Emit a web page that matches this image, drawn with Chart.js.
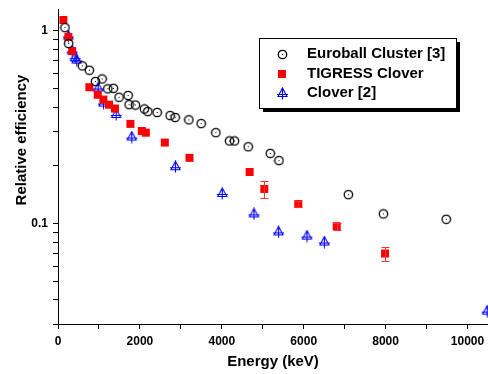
<!DOCTYPE html>
<html>
<head>
<meta charset="utf-8">
<script src="https://cdn.jsdelivr.net/npm/chart.js@4"></script>
<style>
  body { margin: 0; background: #fff; }
  canvas { display: block; }
</style>
</head>
<body>
<canvas id="myChart" width="488" height="374"></canvas>
<script>
// Euroball Cluster [3]
const euroEnergy = [170, 260, 595, 766, 913, 1076, 1215, 1353, 1491, 1711, 1736, 1890, 2110, 2193, 2421, 2738, 2861, 3195, 3496, 3855, 4188, 4310, 4645, 5183, 5395, 7090, 7946, 9480];
const euroEff = [1.04, 0.86, 0.658, 0.625, 0.546, 0.563, 0.50, 0.503, 0.452, 0.462, 0.414, 0.412, 0.393, 0.381, 0.377, 0.363, 0.355, 0.345, 0.330, 0.296, 0.268, 0.268, 0.250, 0.231, 0.212, 0.141, 0.112, 0.105];

// TIGRESS Clover
const tigEnergy = [130, 252, 345, 766, 970, 1107, 1245, 1390, 1768, 2046, 2144, 2608, 3211, 4678, 5037, 5868, 6804, 7985];
const tigEff = [1.14, 0.93, 0.786, 0.51, 0.466, 0.44, 0.414, 0.395, 0.329, 0.302, 0.296, 0.263, 0.219, 0.185, 0.151, 0.126, 0.0967, 0.0697];
const tigErr = [0, 0, 0, 0, 0, 0, 0, 0, 0, 0, 0, 0, 0, 0, 0.015, 0.004, 0.004, 0.006];

// Clover [2]
const cloEnergy = [252, 345, 416, 456, 980, 1110, 1420, 1801, 2868, 4010, 4785, 5387, 6080, 6504, 10480];
const cloEff = [0.94, 0.786, 0.726, 0.706, 0.505, 0.422, 0.368, 0.281, 0.197, 0.143, 0.112, 0.0903, 0.0859, 0.080, 0.035];

const xTicks = [0, 1000, 2000, 3000, 4000, 5000, 6000, 7000, 8000, 9000, 10000];
const yTicks = [0.03, 0.04, 0.05, 0.06, 0.07, 0.08, 0.09, 0.1, 0.2, 0.3, 0.4, 0.5, 0.6, 0.7, 0.8, 0.9, 1];
const yLabels = [0.1, 1];

const FONT = '"Liberation Sans", Arial, sans-serif';

function pairs(xs, ys) {
  return xs.map((x, i) => ({ x: x, y: ys[i] }));
}

// marker shapes
function circleMark() {
  const c = document.createElement('canvas');
  c.width = 11; c.height = 11;
  const g = c.getContext('2d');
  g.strokeStyle = '#000';
  g.lineWidth = 1.3;
  g.beginPath();
  g.arc(5.5, 5.5, 4.2, 0, Math.PI * 2);
  g.stroke();
  g.fillStyle = '#000';
  g.fillRect(5, 5, 1, 1);
  return c;
}

function squareMark() {
  const c = document.createElement('canvas');
  c.width = 10; c.height = 10;
  const g = c.getContext('2d');
  g.fillStyle = '#ff0000';
  g.fillRect(1, 1, 8, 8);
  return c;
}

function triMark() {
  const c = document.createElement('canvas');
  c.width = 13; c.height = 13;
  const g = c.getContext('2d');
  g.strokeStyle = '#0000ff';
  g.lineWidth = 1.1;
  g.beginPath();
  g.moveTo(6.5, 1);
  g.lineTo(2, 9.5);
  g.lineTo(11, 9.5);
  g.closePath();
  g.moveTo(6.5, 1);
  g.lineTo(6.5, 12.5);
  g.moveTo(1, 7.5);
  g.lineTo(12, 7.5);
  g.stroke();
  return c;
}

const marks = [circleMark(), squareMark(), triMark()];

const errorBars = {
  id: 'errorBars',
  afterDatasetsDraw(chart) {
    const g = chart.ctx, xs = chart.scales.x, ys = chart.scales.y;
    g.save();
    g.strokeStyle = '#ff3030';
    g.lineWidth = 1;
    tigErr.forEach((e, i) => {
      if (!e) return;
      const px = Math.round(xs.getPixelForValue(tigEnergy[i])) + 0.5;
      const top = Math.round(ys.getPixelForValue(tigEff[i] + e)) + 0.5;
      const bot = Math.round(ys.getPixelForValue(tigEff[i] - e)) + 0.5;
      g.beginPath();
      g.moveTo(px, top); g.lineTo(px, bot);
      g.moveTo(px - 4, top); g.lineTo(px + 4, top);
      g.moveTo(px - 4, bot); g.lineTo(px + 4, bot);
      g.stroke();
    });
    g.restore();
  }
};

const boxLegend = {
  id: 'boxLegend',
  afterDraw(chart) {
    const g = chart.ctx;
    const bx = 259, by = 38, bw = 197, bh = 70;
    g.save();
    g.fillStyle = '#000';
    g.fillRect(bx + 4, by + 4, bw, bh);
    g.fillStyle = '#fff';
    g.fillRect(bx, by, bw, bh);
    g.strokeStyle = '#000';
    g.lineWidth = 1;
    g.strokeRect(bx + 0.5, by + 0.5, bw, bh);
    g.font = 'bold 15px ' + FONT;
    g.fillStyle = '#000';
    g.textBaseline = 'middle';
    chart.data.datasets.forEach((ds, i) => {
      const y = 54 + i * 19.5;
      const m = marks[i];
      g.drawImage(m, Math.round(282 - m.width / 2), Math.round(y - m.height / 2));
      g.fillText(ds.label, 307, y);
    });
    // y axis title
    g.translate(22, 140);
    g.rotate(-Math.PI / 2);
    g.textAlign = 'center';
    g.fillText('Relative efficiency', 0, 0);
    g.restore();
  }
};

new Chart(document.getElementById('myChart'), {
  type: 'scatter',
  data: {
    datasets: [
      { label: 'Euroball Cluster [3]', data: pairs(euroEnergy, euroEff), pointStyle: marks[0], pointRadius: 5 },
      { label: 'TIGRESS Clover', data: pairs(tigEnergy, tigEff), pointStyle: marks[1], pointRadius: 5 },
      { label: 'Clover [2]', data: pairs(cloEnergy, cloEff), pointStyle: marks[2], pointRadius: 5 }
    ]
  },
  options: {
    responsive: false,
    animation: false,
    events: [],
    layout: { autoPadding: false, padding: { top: 9, right: 0, left: 0, bottom: 0 } },
    plugins: {
      legend: { display: false },
      tooltip: { enabled: false }
    },
    scales: {
      x: {
        type: 'linear',
        min: 0,
        max: 10500,
        afterBuildTicks: s => { s.ticks = xTicks.map(v => ({ value: v })); },
        afterFit: s => { s.height = 50; s.paddingLeft = 0; s.paddingRight = 0; },
        border: { color: '#000', width: 1 },
        grid: { drawOnChartArea: false, drawTicks: true, tickLength: 5, color: '#000' },
        ticks: {
          autoSkip: false,
          maxRotation: 0,
          padding: 5,
          color: '#000',
          font: { family: FONT, size: 12, weight: 'bold' },
          callback: v => (v % 2000 === 0 ? String(v) : '')
        },
        title: {
          display: true,
          text: 'Energy (keV)',
          color: '#000',
          font: { family: FONT, size: 15, weight: 'bold' },
          padding: { top: 0, bottom: 3 }
        }
      },
      y: {
        type: 'logarithmic',
        min: 0.03,
        max: 1.3,
        afterBuildTicks: s => { s.ticks = yTicks.map(v => ({ value: v })); },
        afterFit: s => { s.width = 58; s.paddingTop = 0; s.paddingBottom = 0; },
        border: { color: '#000', width: 1 },
        grid: { drawOnChartArea: false, drawTicks: true, tickLength: 5, color: '#000' },
        ticks: {
          autoSkip: false,
          padding: 5,
          color: '#000',
          font: { family: FONT, size: 12, weight: 'bold' },
          callback: v => (yLabels.includes(v) ? String(v) : '')
        },
        title: { display: false }
      }
    }
  },
  plugins: [errorBars, boxLegend]
});
</script>
</body>
</html>
